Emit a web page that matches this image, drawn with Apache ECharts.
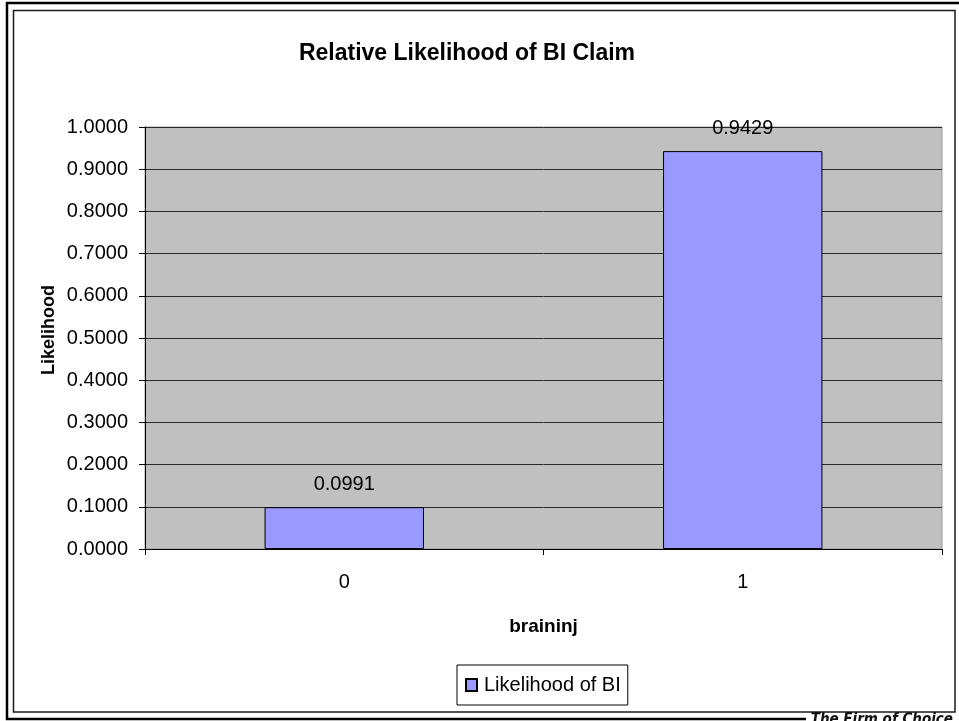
<!DOCTYPE html>
<html>
<head>
<meta charset="utf-8">
<title>Relative Likelihood of BI Claim</title>
<script src="https://cdn.jsdelivr.net/npm/echarts@6/dist/echarts.min.js"></script>
<style>
  html, body { margin: 0; padding: 0; background: #ffffff; }
  #chart { width: 959px; height: 721px; }
</style>
</head>
<body>
<div id="chart"></div>
<script>
// Chart data
const categories = ['0', '1'];
const likelihood = [0.0991, 0.9429];
const seriesName = 'Likelihood of BI';
const yTicks = { min: 0, max: 1, step: 0.1 };

const FONT = '"Liberation Sans", Arial, sans-serif';

const chart = echarts.init(document.getElementById('chart'), null, { renderer: 'canvas' });

chart.setOption({
  backgroundColor: '#ffffff',
  animation: false,
  title: {
    text: 'Relative Likelihood of BI Claim',
    left: 462,
    top: 37,
    textAlign: 'center',
    textStyle: { fontFamily: FONT, fontSize: 23, fontWeight: 'bold', color: '#000' }
  },
  grid: {
    left: 145, top: 127, right: 17, bottom: 172,
    show: true, backgroundColor: '#c0c0c0', borderColor: '#9a9a9a', borderWidth: 1
  },
  legend: {
    data: [seriesName],
    left: 457, top: 665,
    padding: [10, 7, 10, 8],
    borderColor: '#000', borderWidth: 1,
    backgroundColor: '#fff',
    itemWidth: 11, itemHeight: 12, itemGap: 0,
    icon: 'rect',
    textStyle: { fontFamily: FONT, fontSize: 20, color: '#000', padding: [0, 0, 0, 2] }
  },
  xAxis: {
    type: 'category',
    data: categories,
    name: 'braininj',
    nameLocation: 'middle',
    nameGap: 68,
    nameTextStyle: { fontFamily: FONT, fontSize: 19, fontWeight: 'bold', color: '#000' },
    axisLine: { lineStyle: { color: '#000', width: 1 } },
    axisTick: { show: true, length: 6, alignWithLabel: false, lineStyle: { color: '#000' } },
    axisLabel: { margin: 23, fontFamily: FONT, fontSize: 20, color: '#000' }
  },
  yAxis: {
    type: 'value',
    min: yTicks.min, max: yTicks.max, interval: yTicks.step,
    axisLine: { show: true, lineStyle: { color: '#000', width: 1 } },
    axisTick: { show: true, length: 6, lineStyle: { color: '#000' } },
    axisLabel: {
      margin: 17, fontFamily: FONT, fontSize: 20, color: '#000',
      formatter: v => v.toFixed(4)
    },
    splitLine: { show: true, lineStyle: { color: '#2a2a2a', width: 1 } }
  },
  series: [{
    name: seriesName,
    type: 'bar',
    data: likelihood,
    barWidth: '40%',
    itemStyle: { color: '#9999ff', borderColor: '#000', borderWidth: 1 },
    label: {
      show: true, position: 'top', distance: 13,
      fontFamily: FONT, fontSize: 20, color: '#000',
      formatter: p => p.value.toFixed(4)
    }
  }],
  graphic: [
    // y-axis title
    { type: 'text', silent: true, z: 50,
      x: 49, y: 330, rotation: Math.PI / 2,
      style: {
        text: 'Likelihood', align: 'center', verticalAlign: 'middle',
        font: 'bold 18px "Liberation Sans", Arial, sans-serif', fill: '#000'
      } },
    // outer frame
    { type: 'rect', silent: true, z: 100,
      shape: { x: 7, y: 3, width: 960, height: 716 },
      style: { fill: 'none', stroke: '#000', lineWidth: 2.5 } },
    // inner frame
    { type: 'rect', silent: true, z: 100,
      shape: { x: 13.5, y: 10.5, width: 941.5, height: 701.5 },
      style: { fill: 'none', stroke: '#1a1a1a', lineWidth: 1.5 } },
    // footer tagline strip
    { type: 'rect', silent: true, z: 101,
      shape: { x: 806, y: 714, width: 153, height: 7 },
      style: { fill: '#fff' } },
    { type: 'text', silent: true, z: 102,
      style: {
        text: 'The Firm of Choice', x: 953, y: 713,
        align: 'right', verticalAlign: 'top',
        font: 'italic bold 15px "Liberation Sans Narrow", "DejaVu Sans Condensed", sans-serif', fill: '#111'
      } }
  ]
});
</script>
</body>
</html>
